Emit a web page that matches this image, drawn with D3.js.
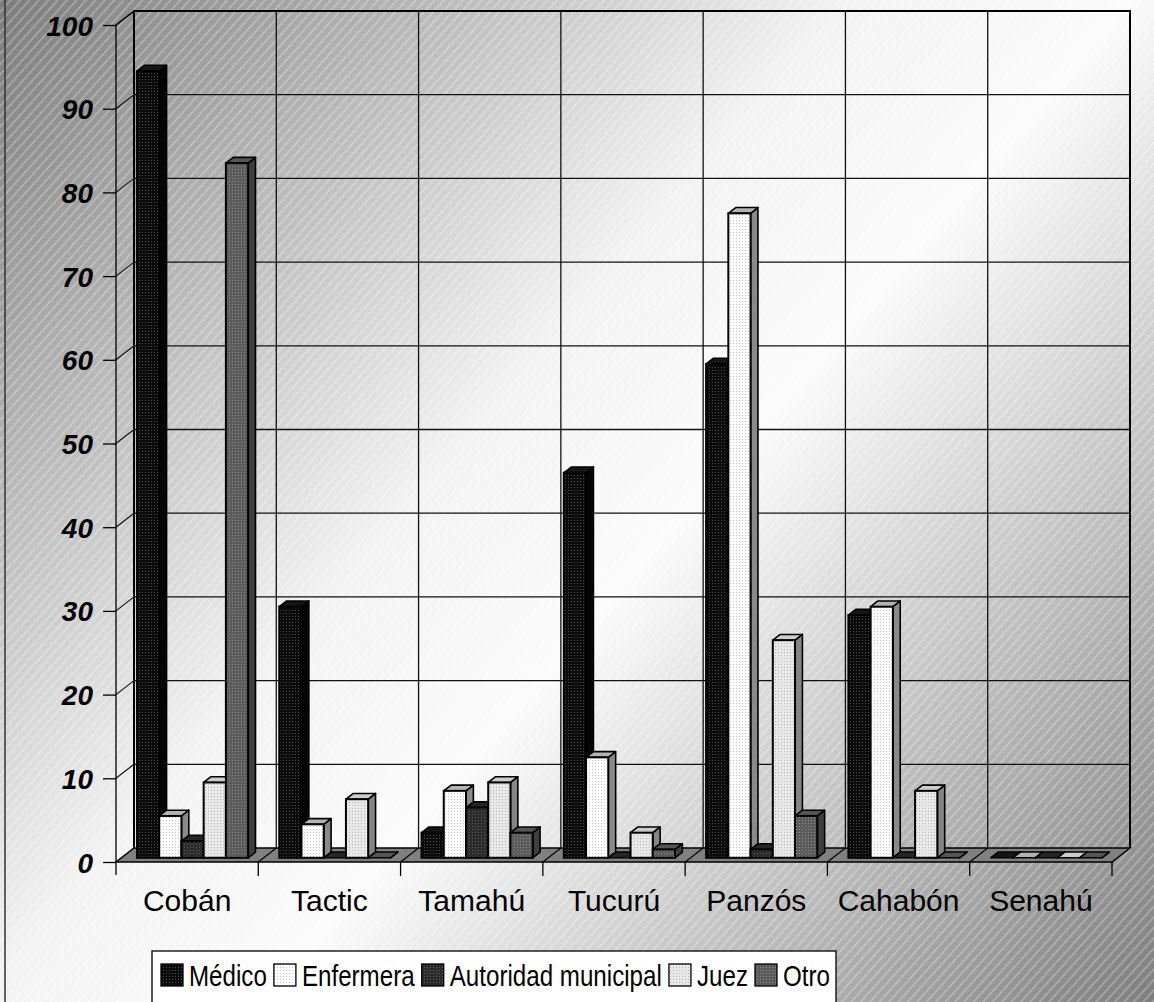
<!DOCTYPE html>
<html>
<head>
<meta charset="utf-8">
<script src="https://cdn.jsdelivr.net/npm/d3@7"></script>
<style>
  body { margin: 0; background: #fff; }
  svg { display: block; }
  text { font-family: "Liberation Sans", Arial, sans-serif; fill: #000; }
</style>
</head>
<body>
<div id="chart"></div>
<script>
// Data
const categories = ["Cobán", "Tactic", "Tamahú", "Tucurú", "Panzós", "Cahabón", "Senahú"];
const seriesNames = ["Médico", "Enfermera", "Autoridad municipal", "Juez", "Otro"];
const medico    = [94, 30, 3, 46, 59, 29, 0];
const enfermera = [5, 4, 8, 12, 77, 30, 0];
const autoridad = [2, 0, 6, 0, 1, 0, 0];
const juez      = [9, 7, 9, 3, 26, 8, 0];
const otro      = [83, 0, 3, 1, 5, 0, 0];
const yTicks = d3.range(0, 101, 10);

const seriesValues = [medico, enfermera, autoridad, juez, otro];

// fills: front base, front dots, top, side
const seriesStyle = [
    {base: "#0b0b0b", dot: "#4a4a4a", top: "#151515", side: "#050505"},
    {base: "#ffffff", dot: "#c8c8c8", top: "#b4b4b4", side: "#8a8a8a"},
    {base: "#2c2c2c", dot: "#5a5a5a", top: "#262626", side: "#161616"},
    {base: "#e8e8e8", dot: "#b8b8b8", top: "#cccccc", side: "#858585"},
    {base: "#5c5c5c", dot: "#8a8a8a", top: "#555555", side: "#3e3e3e"}
];

const width = 1154, height = 1002;

// 3D geometry (front plane + depth offset)
const front = {left: 116, right: 1112, top: 25, bottom: 862};
const DX = 18, DY = -14;          // full depth offset of the back wall
const zFront = 0.3, zBack = 0.71; // bar depth slice

const svg = d3.select("#chart").append("svg")
    .attr("width", width)
    .attr("height", height);

const defs = svg.append("defs");

// Background diagonal gradient: dark corners, light middle
const grad = defs.append("linearGradient")
    .attr("id", "bg")
    .attr("gradientUnits", "userSpaceOnUse")
    .attr("x1", 0).attr("y1", 0)
    .attr("x2", width).attr("y2", height);
grad.append("stop").attr("offset", 0).attr("stop-color", "#7c7c7c");
grad.append("stop").attr("offset", 0.42).attr("stop-color", "#f3f3f3");
grad.append("stop").attr("offset", 0.56).attr("stop-color", "#fbfbfb");
grad.append("stop").attr("offset", 1).attr("stop-color", "#7e7e7e");

// thin light diagonal hatching
const hatch = defs.append("pattern")
    .attr("id", "hatch")
    .attr("patternUnits", "userSpaceOnUse")
    .attr("width", 7).attr("height", 7)
    .attr("patternTransform", "rotate(42)");
hatch.append("line")
    .attr("x1", 1).attr("y1", 0).attr("x2", 1).attr("y2", 7)
    .attr("stroke", "#ffffff")
    .attr("stroke-opacity", 0.4)
    .attr("stroke-width", 1.2);

// dotted fills for bar fronts
seriesStyle.forEach((s, i) => {
    const p = defs.append("pattern")
        .attr("id", "fill" + i)
        .attr("patternUnits", "userSpaceOnUse")
        .attr("width", 3).attr("height", 3);
    p.append("rect").attr("width", 3).attr("height", 3).attr("fill", s.base);
    p.append("rect").attr("x", 1).attr("y", 1).attr("width", 1).attr("height", 1).attr("fill", s.dot);
});

svg.append("rect").attr("width", width).attr("height", height).attr("fill", "url(#bg)");
svg.append("rect").attr("width", width).attr("height", height).attr("fill", "url(#hatch)");

// chart area border (only the left edge is inside the picture)
svg.append("rect")
    .attr("x", 5).attr("y", -10)
    .attr("width", width + 20).attr("height", height + 20)
    .attr("fill", "none")
    .attr("stroke", "#333")
    .attr("stroke-width", 1.5);

// Scales
const x = d3.scaleBand()
    .domain(categories)
    .range([front.left, front.right])
    .padding(0);

const xs = d3.scaleBand()
    .domain(seriesNames)
    .range([0, x.bandwidth()])
    .paddingInner(0)
    .paddingOuter(0.7);

const y = d3.scaleLinear()
    .domain([0, 100])
    .range([front.bottom, front.top]);

const gridColor = "#111";

// Floor
const floor = svg.append("g");
floor.append("path")
    .attr("d", `M${front.left},${front.bottom} L${front.right},${front.bottom} L${front.right + DX},${front.bottom + DY} L${front.left + DX},${front.bottom + DY} Z`)
    .attr("fill", "#808080")
    .attr("stroke", "#000")
    .attr("stroke-width", 1.5);

// floor gridlines at category boundaries
const bounds = categories.map(c => x(c)).concat([front.right]);
floor.selectAll(".fgrid")
    .data(bounds.slice(1, -1))
    .enter()
    .append("line")
        .attr("x1", d => d).attr("y1", front.bottom)
        .attr("x2", d => d + DX).attr("y2", front.bottom + DY)
        .attr("stroke", "#000")
        .attr("stroke-width", 1.2);

// Back wall gridlines
const wall = svg.append("g");
wall.selectAll(".hgrid")
    .data(yTicks.slice(1))
    .enter()
    .append("line")
        .attr("x1", front.left + DX).attr("x2", front.right + DX)
        .attr("y1", d => y(d) + DY).attr("y2", d => y(d) + DY)
        .attr("stroke", gridColor)
        .attr("stroke-width", 1.3);

wall.selectAll(".vgrid")
    .data(bounds.slice(1, -1))
    .enter()
    .append("line")
        .attr("x1", d => d + DX).attr("x2", d => d + DX)
        .attr("y1", y(100) + DY).attr("y2", y(0) + DY)
        .attr("stroke", gridColor)
        .attr("stroke-width", 1.3);

// Side wall gridlines (slanted)
wall.selectAll(".sgrid")
    .data(yTicks.slice(1))
    .enter()
    .append("line")
        .attr("x1", front.left).attr("y1", d => y(d))
        .attr("x2", front.left + DX).attr("y2", d => y(d) + DY)
        .attr("stroke", gridColor)
        .attr("stroke-width", 1.2);

// wall outlines
wall.append("path")
    .attr("d", `M${front.left + DX},${y(0) + DY} L${front.left + DX},${y(100) + DY} L${front.right + DX},${y(100) + DY} L${front.right + DX},${y(0) + DY}`)
    .attr("fill", "none")
    .attr("stroke", "#000")
    .attr("stroke-width", 2);
wall.append("path")
    .attr("d", `M${front.left},${front.bottom + 13} L${front.left},${y(100)} L${front.left + DX},${y(100) + DY}`)
    .attr("fill", "none")
    .attr("stroke", "#000")
    .attr("stroke-width", 1.3);

// Bars, category by category, series left to right
const bw = xs.bandwidth();
const ddx = (zBack - zFront) * DX, ddy = (zBack - zFront) * DY;
const bars = [];
categories.forEach((c, ci) => {
    seriesNames.forEach((s, si) => {
        bars.push({cat: c, series: s, si: si, value: seriesValues[si][ci]});
    });
});

const barG = svg.append("g").selectAll(".bar")
    .data(bars)
    .enter()
    .append("g")
        .attr("class", "bar");

function geom(d) {
    const bx = x(d.cat) + xs(d.series) + zFront * DX;
    const yt = y(d.value) + zFront * DY;
    const yb = y(0) + zFront * DY;
    return {bx, yt, yb};
}

barG.append("path")  // side
    .attr("d", d => {
        const g = geom(d);
        return `M${g.bx + bw},${g.yt} L${g.bx + bw + ddx},${g.yt + ddy} L${g.bx + bw + ddx},${g.yb + ddy} L${g.bx + bw},${g.yb} Z`;
    })
    .attr("fill", d => seriesStyle[d.si].side)
    .attr("stroke", "#000")
    .attr("stroke-width", 1.6)
    .attr("stroke-linejoin", "round");

barG.append("path")  // top
    .attr("d", d => {
        const g = geom(d);
        return `M${g.bx},${g.yt} L${g.bx + bw},${g.yt} L${g.bx + bw + ddx},${g.yt + ddy} L${g.bx + ddx},${g.yt + ddy} Z`;
    })
    .attr("fill", d => seriesStyle[d.si].top)
    .attr("stroke", "#000")
    .attr("stroke-width", 1.6)
    .attr("stroke-linejoin", "round");

barG.filter(d => d.value > 0).append("rect")  // front
    .attr("x", d => geom(d).bx)
    .attr("y", d => geom(d).yt)
    .attr("width", bw)
    .attr("height", d => geom(d).yb - geom(d).yt)
    .attr("fill", d => "url(#fill" + d.si + ")")
    .attr("stroke", "#000")
    .attr("stroke-width", 2);

// Y axis
const yAxis = svg.append("g")
    .attr("transform", `translate(${front.left},0)`)
    .call(d3.axisLeft(y).tickValues(yTicks).tickSize(13).tickPadding(10));
yAxis.select(".domain").remove();
yAxis.selectAll(".tick line").attr("stroke", "#000").attr("stroke-width", 1.3);
yAxis.selectAll("text")
    .style("font-size", "28px")
    .style("font-weight", "bold")
    .style("font-style", "italic")
    .attr("fill", "#000")
    .attr("dy", "0.36em");

// X axis: labels at band centres, ticks at band boundaries
const xAxis = svg.append("g")
    .attr("transform", `translate(0,${front.bottom})`)
    .call(d3.axisBottom(x).tickSize(0).tickPadding(28));
xAxis.select(".domain").remove();
xAxis.selectAll("text")
    .style("font-size", "30px")
    .attr("fill", "#000");

svg.append("g").selectAll(".xtick")
    .data(bounds.slice(1))
    .enter()
    .append("line")
        .attr("x1", d => d).attr("x2", d => d)
        .attr("y1", front.bottom).attr("y2", front.bottom + 14)
        .attr("stroke", "#000")
        .attr("stroke-width", 1.3);

// Legend (text is drawn slightly condensed so the box ends near x=836)
const legendLeft = 152, legendRight = 836;
const legend = svg.append("g");
const legendBox = legend.append("rect")
    .attr("x", legendLeft).attr("y", 951)
    .attr("width", legendRight - legendLeft)
    .attr("height", 60)
    .attr("fill", "#fff")
    .attr("stroke", "#000")
    .attr("stroke-width", 1.3);

const sq = 22, padL = 9, sqGap = 6, itemGap = 7, padR = 6;
const labels = seriesNames.map(s => legend.append("text")
    .style("font-size", "30px")
    .text(s));
const textW = labels.map(t => t.node().getComputedTextLength());
const avail = (legendRight - legendLeft) - padL - padR - seriesNames.length * (sq + sqGap) - (seriesNames.length - 1) * itemGap;
const squeeze = Math.min(1, avail / d3.sum(textW));

let lx = legendLeft + padL;
seriesNames.forEach((s, i) => {
    legend.append("rect")
        .attr("x", lx).attr("y", 964)
        .attr("width", sq).attr("height", sq)
        .attr("fill", "url(#fill" + i + ")")
        .attr("stroke", "#000")
        .attr("stroke-width", 1.3);
    const tx = lx + sq + sqGap;
    labels[i].attr("transform", `translate(${tx},986) scale(${squeeze},1)`);
    lx = tx + textW[i] * squeeze + itemGap;
});
</script>
</body>
</html>
